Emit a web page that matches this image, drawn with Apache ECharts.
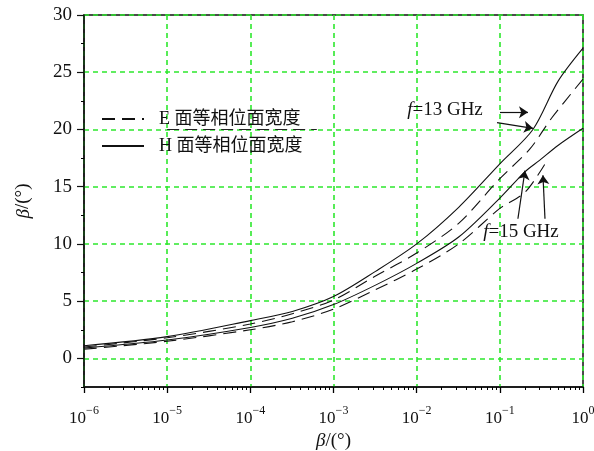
<!DOCTYPE html>
<html>
<head>
<meta charset="utf-8">
<script src="https://cdn.jsdelivr.net/npm/echarts@6/dist/echarts.min.js"></script>
<style>
  html, body { margin: 0; padding: 0; background: #fff; }
  #chart { width: 594px; height: 451px; }
</style>
</head>
<body>
<div id="chart"></div>
<script>
// H-plane (solid) and E-plane (dashed) curves, f = 13 GHz and 15 GHz
const h13X = [1e-6, 1e-5, 1e-4, 3.2e-4, 1e-3, 3.2e-3, 1e-2, 3.2e-2, 0.1, 0.25, 0.5, 1];
const h13Y = [1.1, 1.9, 3.3, 4.1, 5.4, 7.6, 10.0, 13.2, 17.0, 20.0, 24.2, 27.1];

const e13X = [1e-6, 1e-5, 1e-4, 3.2e-4, 1e-3, 3.2e-3, 1e-2, 3.2e-2, 0.1, 0.23, 0.42, 1];
const e13Y = [1.0, 1.8, 3.0, 3.9, 5.1, 7.2, 9.2, 11.8, 15.7, 18.3, 21.0, 24.4];

const h15X = [1e-6, 1e-5, 1e-4, 3.2e-4, 1e-3, 3.2e-3, 1e-2, 3.2e-2, 0.1, 0.2, 0.3, 0.5, 1];
const h15Y = [0.9, 1.6, 2.7, 3.5, 4.7, 6.4, 8.3, 10.6, 14.0, 16.3, 17.3, 18.6, 20.1];

const e15X = [1e-6, 1e-5, 1e-4, 3.2e-4, 1e-3, 3.2e-3, 1e-2, 3.2e-2, 0.1, 0.2, 0.35];
const e15Y = [0.8, 1.5, 2.5, 3.2, 4.3, 6.0, 7.8, 10.0, 13.1, 14.5, 17.0];

const yTicks = [0, 5, 10, 15, 20, 25, 30];
const yMinorTicks = [-2.5, 2.5, 7.5, 12.5, 17.5, 22.5, 27.5];
// minor ticks of the log axis, as log10 values (2..9 x 10^n)
const xMinorTicks = [];
for (let e = -6; e < 0; e++) {
  for (let k = 2; k <= 9; k++) xMinorTicks.push(e + Math.log10(k));
}

const legendE = 'E 面等相位面宽度';
const legendH = 'H 面等相位面宽度';

const SERIF = '"Liberation Serif", "Times New Roman", serif';
const CJK = '"Liberation Serif", "Noto Sans CJK SC", serif';
const GRID_GREEN = '#2ee82e';
const DASH = [13, 7];

const zip = (xs, ys) => xs.map((x, i) => [x, ys[i]]);

const chart = echarts.init(document.getElementById('chart'));

// plot box: x 84..583, y 15..387
const GRID = { left: 84, right: 11, top: 15, bottom: 64 };
const PLOT_W = 594 - GRID.left - GRID.right;
const PLOT_H = 451 - GRID.top - GRID.bottom;

const lineBase = {
  type: 'line',
  symbol: 'none',
  smooth: 0.3,
  xAxisIndex: 0,
  yAxisIndex: 0,
  silent: true,
  z: 3,
  itemStyle: { color: '#111' },
};

const arrowLine = (a, b) => [{ coord: a }, { coord: b }];

const option = {
  backgroundColor: '#fff',
  animation: false,
  grid: Object.assign({
    show: true,
    borderColor: '#111',
    borderWidth: 1.5,
    outerBoundsMode: 'none',
    containLabel: false,
  }, GRID),
  legend: {
    orient: 'vertical',
    left: 96,
    top: 105,
    itemWidth: 42,
    itemHeight: 14,
    itemGap: 9,
    data: [legendE, legendH],
    itemStyle: { opacity: 0 },
    textStyle: {
      fontFamily: CJK,
      fontSize: 18,
      color: '#111',
      lineHeight: 18,
      padding: [0, 0, 0, 10],
    },
  },
  xAxis: [
    {
      type: 'log',
      logBase: 10,
      min: 1e-6,
      max: 1,
      interval: 1,
      position: 'bottom',
      name: '{i|β}/(°)',
      nameLocation: 'middle',
      nameGap: 40,
      nameTextStyle: {
        fontFamily: SERIF,
        fontSize: 19,
        color: '#111',
        rich: { i: { fontFamily: SERIF, fontStyle: 'italic', fontSize: 19, color: '#111' } },
      },
      axisLine: { show: true, onZero: false, lineStyle: { color: '#111', width: 1.5 } },
      axisTick: { show: true, inside: false, length: 6, lineStyle: { color: '#000', width: 1.3 } },
      axisLabel: {
        margin: 18,
        formatter: (v) => {
          const e = Math.round(Math.log10(v));
          const s = e < 0 ? '\u2212' + (-e) : String(e);
          return '{b|10}{s|' + s + '}';
        },
        rich: {
          b: { fontFamily: SERIF, fontSize: 17, color: '#111', lineHeight: 22, verticalAlign: 'bottom' },
          s: { fontFamily: SERIF, fontSize: 12, color: '#111', lineHeight: 12, verticalAlign: 'top' },
        },
      },
      splitLine: { show: true, lineStyle: { color: GRID_GREEN, width: 1.6, type: [5, 4] } },
    },
    {
      // minor ticks of the log axis: a top axis moved down onto the bottom edge
      type: 'value',
      min: -6,
      max: 0,
      position: 'top',
      offset: -PLOT_H,
      axisLine: { show: true, onZero: false, lineStyle: { color: 'rgba(0,0,0,0)', width: 0 } },
      axisLabel: { show: true, customValues: xMinorTicks, formatter: () => '', color: 'rgba(0,0,0,0)' },
      splitLine: { show: false },
      axisTick: { show: true, inside: true, length: 3, customValues: xMinorTicks, lineStyle: { color: '#000', width: 1 } },
    },
  ],
  yAxis: [
    {
      type: 'value',
      min: -2.5,
      max: 30,
      position: 'left',
      name: '{i|β}/(°)',
      nameLocation: 'middle',
      nameRotate: 90,
      nameGap: 51,
      nameTextStyle: {
        fontFamily: SERIF,
        fontSize: 19,
        color: '#111',
        rich: { i: { fontFamily: SERIF, fontStyle: 'italic', fontSize: 19, color: '#111' } },
      },
      axisLine: { show: true, onZero: false, lineStyle: { color: '#111', width: 1.5 } },
      axisTick: { show: true, length: 7, customValues: yTicks, lineStyle: { color: '#111', width: 1.2 } },
      axisLabel: { customValues: yTicks, margin: 12, fontFamily: SERIF, fontSize: 19, color: '#111' },
      splitLine: { show: true, lineStyle: { color: GRID_GREEN, width: 1.6, type: [5, 4] } },
    },
    {
      // minor ticks of the y axis: a right axis moved onto the left edge
      type: 'value',
      min: -2.5,
      max: 30,
      position: 'right',
      offset: -PLOT_W,
      axisLine: { show: true, onZero: false, lineStyle: { color: 'rgba(0,0,0,0)', width: 0 } },
      axisLabel: { show: true, customValues: yMinorTicks, formatter: () => '', color: 'rgba(0,0,0,0)' },
      splitLine: { show: false },
      axisTick: { show: true, inside: true, length: 3, customValues: yMinorTicks, lineStyle: { color: '#000', width: 1 } },
    },
  ],
  series: [
    Object.assign({}, lineBase, {
      name: legendH,
      data: zip(h13X, h13Y),
      lineStyle: { color: '#111', width: 1.1, type: 'solid' },
      markLine: {
        silent: true,
        symbol: ['none', 'arrow'],
        symbolSize: 9,
        label: { show: false },
        itemStyle: { color: '#111' },
        lineStyle: { color: '#111', width: 1.2, type: 'solid' },
        data: [
          arrowLine([0.1005, 21.5], [0.218, 21.5]),
          arrowLine([0.0925, 20.6], [0.2506, 20.1]),
          arrowLine([0.165, 12.2], [0.2005, 16.4]),
          arrowLine([0.349, 12.2], [0.330, 16.0]),
        ],
      },
      markPoint: {
        silent: true,
        symbol: 'rect',
        symbolSize: 0,
        label: {
          show: true,
          position: 'inside',
          formatter: (p) => '{i|f}=' + p.name,
          fontFamily: SERIF,
          fontSize: 19,
          color: '#111',
          rich: { i: { fontFamily: SERIF, fontStyle: 'italic', fontSize: 19, color: '#111' } },
        },
        data: [
          { name: '13 GHz', coord: [0.0219, 21.7] },
          { name: '15 GHz', coord: [0.1795, 11.0] },
        ],
      },
    }),
    Object.assign({}, lineBase, {
      name: legendE,
      data: zip(e13X, e13Y),
      lineStyle: { color: '#111', width: 1.1, type: DASH },
      markLine: {
        silent: true,
        symbol: 'none',
        label: { show: false },
        lineStyle: { color: '#222', width: 1.2, type: [12, 6] },
        data: [arrowLine([1e-5, 20], [6.3e-4, 20])],
      },
    }),
    Object.assign({}, lineBase, {
      name: legendH,
      data: zip(h15X, h15Y),
      lineStyle: { color: '#111', width: 1.1, type: 'solid' },
    }),
    Object.assign({}, lineBase, {
      name: legendE,
      data: zip(e15X, e15Y),
      lineStyle: { color: '#111', width: 1.1, type: DASH },
    }),
  ],
};

chart.setOption(option);
</script>
</body>
</html>
